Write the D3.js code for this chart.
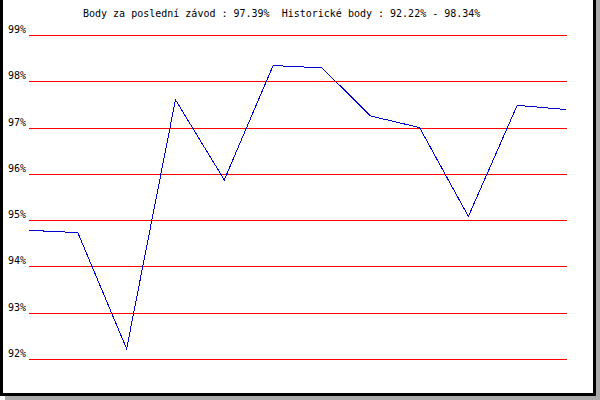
<!DOCTYPE html>
<html>
<head>
<meta charset="utf-8">
<script src="https://cdn.jsdelivr.net/npm/d3@7"></script>
<style>
  body { margin: 0; background: #fff; }
  svg { display: block; }
  text { font-family: "DejaVu Sans Mono", "Liberation Mono", monospace; font-size: 10px; fill: #000; }
</style>
</head>
<body>
<div id="chart"></div>
<script>
// race results, one point per race
var races = [1, 2, 3, 4, 5, 6, 7, 8, 9, 10, 11, 12];
var points = [94.78, 94.73, 92.22, 97.60, 95.87, 98.34, 98.29, 97.25, 97.00, 95.08, 97.48, 97.39];
var yTicks = [92, 93, 94, 95, 96, 97, 98, 99];
var title = "Body za poslední závod : 97.39%  Historické body : 92.22% - 98.34%";

var W = 600, H = 400;
var margin = { top: 35, right: 34, bottom: 41, left: 29 };

var svg = d3.select("#chart").append("svg")
  .attr("width", W)
  .attr("height", H);

// frame with shadow
svg.append("rect").attr("x", 5).attr("y", 0).attr("width", 595).attr("height", 400).attr("fill", "#aaa");
svg.append("rect").attr("x", 0).attr("y", -3).attr("width", 596).attr("height", 399).attr("fill", "#000");
svg.append("rect").attr("x", 3).attr("y", 0).attr("width", 590).attr("height", 393).attr("fill", "#fff");

var x = d3.scaleLinear()
  .domain([1, 12])
  .range([margin.left, W - margin.right]);

var y = d3.scaleLinear()
  .domain([92, 99])
  .range([H - margin.bottom, margin.top]);

// grid lines
var grid = svg.append("g");
grid.selectAll("line")
  .data(yTicks)
  .enter()
  .append("line")
  .attr("x1", margin.left)
  .attr("x2", W - margin.right + 1)
  .attr("y1", function (d) { return Math.round(y(d)) + 0.5; })
  .attr("y2", function (d) { return Math.round(y(d)) + 0.5; })
  .attr("stroke", "#ff0000")
  .attr("stroke-width", 1)
  .attr("shape-rendering", "crispEdges");

grid.selectAll("text")
  .data(yTicks)
  .enter()
  .append("text")
  .attr("x", 26)
  .attr("y", function (d) { return Math.round(y(d)) - 2; })
  .attr("text-anchor", "end")
  .text(function (d) { return d + "%"; });

// line
var line = d3.line()
  .x(function (d, i) { return x(races[i]); })
  .y(function (d) { return y(d); });

svg.append("path")
  .datum(points)
  .attr("d", line)
  .attr("fill", "none")
  .attr("stroke", "#0000cc")
  .attr("stroke-width", 1)
  .attr("shape-rendering", "crispEdges");

svg.append("text")
  .attr("x", 83)
  .attr("y", 17)
  .attr("xml:space", "preserve")
  .style("white-space", "pre")
  .text(title);
</script>
</body>
</html>
